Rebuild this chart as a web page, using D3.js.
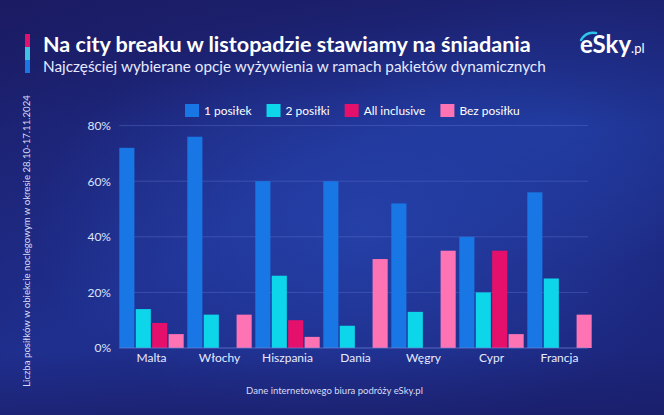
<!DOCTYPE html>
<html>
<head>
<meta charset="utf-8">
<script src="https://cdn.jsdelivr.net/npm/d3@7"></script>
<style>
  html, body { margin: 0; padding: 0; background: #1b2170; }
  svg { display: block; }
  text { font-family: Lato, "Open Sans", sans-serif; }
</style>
</head>
<body>
<script>
// ---- DATA ----
const categories = ["Malta", "Włochy", "Hiszpania", "Dania", "Węgry", "Cypr", "Francja"];
const seriesNames = ["1 posiłek", "2 posiłki", "All inclusive", "Bez posiłku"];
const onePosilek   = [72, 76, 60, 60, 52, 40, 56];
const twoPosilki   = [14, 12, 26,  8, 13, 20, 25];
const allInclusive = [ 9,  0, 10,  0,  0, 35,  0];
const bezPosilku   = [ 5, 12,  4, 32, 35,  5, 12];
const yTicks = [0, 20, 40, 60, 80];
const yTickLabels = ["0%", "20%", "40%", "60%", "80%"];
const seriesColors = ["#1877e4", "#0dd5ea", "#e5106c", "#fd73b3"];
const titleText = "Na city breaku w listopadzie stawiamy na śniadania";
const subtitleText = "Najczęściej wybierane opcje wyżywienia w ramach pakietów dynamicznych";
const yAxisTitle = "Liczba posiłków w obiekcie noclegowym w okresie 28.10-17.11.2024";
const footerText = "Dane internetowego biura podróży eSky.pl";

const seriesValues = [onePosilek, twoPosilki, allInclusive, bezPosilku];
const table = categories.map((c, i) => ({ cat: c, vals: seriesValues.map(s => s[i]) }));

const W = 664, H = 415;
const svg = d3.select("body").append("svg").attr("width", W).attr("height", H);
const defs = svg.append("defs");

// fit text to a target width by adjusting font size
function fitWidth(sel, target) {
  const fs = parseFloat(sel.attr("font-size"));
  const w = sel.node().getComputedTextLength();
  if (w > 0) sel.attr("font-size", (fs * target / w).toFixed(2));
}

// Background
const bg = defs.append("linearGradient").attr("id", "bg").attr("x1", 0).attr("y1", 0).attr("x2", 1).attr("y2", 1);
bg.append("stop").attr("offset", "0%").attr("stop-color", "#1b1c66");
bg.append("stop").attr("offset", "45%").attr("stop-color", "#1f2f8e");
bg.append("stop").attr("offset", "100%").attr("stop-color", "#1b2478");
svg.append("rect").attr("width", W).attr("height", H).attr("fill", "url(#bg)");
const rg = defs.append("radialGradient").attr("id", "glow").attr("cx", 0.55).attr("cy", 0.55).attr("r", 0.5);
rg.append("stop").attr("offset", "0%").attr("stop-color", "#2a4fc0").attr("stop-opacity", 0.55);
rg.append("stop").attr("offset", "100%").attr("stop-color", "#2a4fc0").attr("stop-opacity", 0);
svg.append("rect").attr("width", W).attr("height", H).attr("fill", "url(#glow)");
const rg2 = defs.append("radialGradient").attr("id", "glow2").attr("cx", 0.85).attr("cy", 0.3).attr("r", 0.35);
rg2.append("stop").attr("offset", "0%").attr("stop-color", "#2346b0").attr("stop-opacity", 0.5);
rg2.append("stop").attr("offset", "100%").attr("stop-color", "#2346b0").attr("stop-opacity", 0);
svg.append("rect").attr("width", W).attr("height", H).attr("fill", "url(#glow2)");
const topShade = defs.append("linearGradient").attr("id", "topShade").attr("x1", 0).attr("y1", 0).attr("x2", 0).attr("y2", 1);
topShade.append("stop").attr("offset", "0%").attr("stop-color", "#1a1a60").attr("stop-opacity", 0.6);
topShade.append("stop").attr("offset", "30%").attr("stop-color", "#1a1a60").attr("stop-opacity", 0);
topShade.append("stop").attr("offset", "85%").attr("stop-color", "#1a1a60").attr("stop-opacity", 0);
topShade.append("stop").attr("offset", "100%").attr("stop-color", "#1a1a60").attr("stop-opacity", 0.5);
svg.append("rect").attr("width", W).attr("height", H).attr("fill", "url(#topShade)");

// Header colour bar
const barColors = ["#e5106c", "#3ec3e6", "#1877e4"];
barColors.forEach((c, i) => {
  svg.append("rect").attr("x", 25).attr("y", 34 + i * 13).attr("width", 5).attr("height", 13).attr("fill", c);
});

// Title + subtitle
const title = svg.append("text").attr("x", 43).attr("y", 51.5).attr("fill", "#ffffff")
  .attr("font-size", 19).attr("font-weight", 700).text(titleText);
fitWidth(title, 488);
const subtitle = svg.append("text").attr("x", 43).attr("y", 71.5).attr("fill", "#e6eaff")
  .attr("font-size", 14).text(subtitleText);
fitWidth(subtitle, 503);

// Logo
const logo = svg.append("text").attr("x", 580).attr("y", 53).attr("fill", "#ffffff")
  .attr("font-weight", 700).attr("font-size", 24);
logo.append("tspan").text("eSky");
logo.append("tspan").attr("font-size", 13).attr("font-weight", 400).text(".pl");
svg.append("path").attr("d", "M581,40 Q586,31 596,33").attr("fill", "none")
  .attr("stroke", "#2ec5ea").attr("stroke-width", 2.5).attr("stroke-linecap", "round");

// Scales
const plotLeft = 119.3, plotRight = 595.3, plotBottom = 348, plotTop = 125.6;
const x0 = d3.scaleBand().domain(categories).range([plotLeft, plotRight]).paddingInner(0).paddingOuter(0);
const x1 = d3.scaleBand().domain(seriesNames).range([0, 64.4]).paddingInner(0.08).paddingOuter(0);
const y = d3.scaleLinear().domain([0, 80]).range([plotBottom, plotTop]);
const gridRight = 588;

// Gridlines
svg.append("g").selectAll("line").data(yTicks.filter(d => d > 0)).join("line")
  .attr("x1", plotLeft).attr("x2", gridRight)
  .attr("y1", d => y(d)).attr("y2", d => y(d))
  .attr("stroke", "#5a6fc8").attr("stroke-opacity", 0.45).attr("stroke-width", 1);

// Y axis labels
const yAxis = d3.axisLeft(y).tickValues(yTicks).tickFormat((d, i) => yTickLabels[i]).tickSize(0).tickPadding(0);
const yg = svg.append("g").attr("transform", `translate(111,0)`).call(yAxis);
yg.select(".domain").remove();
yg.selectAll("text").attr("fill", "#dfe4fb").attr("font-size", 12).attr("font-family", "Lato, sans-serif");

// Bars
const groups = svg.append("g").selectAll("g").data(table).join("g")
  .attr("transform", d => `translate(${x0(d.cat)},0)`);
groups.selectAll("rect").data(d => d.vals.map((v, i) => ({ name: seriesNames[i], v, i }))).join("rect")
  .attr("x", d => x1(d.name)).attr("width", x1.bandwidth())
  .attr("y", d => y(d.v)).attr("height", d => plotBottom - y(d.v))
  .attr("fill", d => seriesColors[d.i]);

// Baseline
svg.append("line").attr("x1", plotLeft).attr("x2", gridRight).attr("y1", plotBottom).attr("y2", plotBottom)
  .attr("stroke", "#6f82d6").attr("stroke-opacity", 0.7).attr("stroke-width", 1);

// X axis labels
const xAxis = d3.axisBottom(x0).tickSize(0).tickPadding(0);
const xg = svg.append("g").attr("transform", `translate(${-(x0.bandwidth() - 64.4) / 2},353.5)`).call(xAxis);
xg.select(".domain").remove();
xg.selectAll("text").attr("fill", "#e6eaff").attr("font-size", 12).attr("font-family", "Lato, sans-serif");

// Legend (text sized so the row spans the same width as the reference)
const legend = svg.append("g");
const legTexts = seriesNames.map(n => legend.append("text").attr("y", 115).attr("fill", "#ffffff")
  .attr("font-size", 13).text(n));
const totalW = d3.sum(legTexts, t => t.node().getComputedTextLength());
const legFs = 13 * 214 / totalW;
let lx = 185;
legTexts.forEach((t, i) => {
  t.attr("font-size", legFs.toFixed(2));
  legend.append("rect").attr("x", lx).attr("y", 104).attr("width", 14).attr("height", 13).attr("fill", seriesColors[i]);
  t.attr("x", lx + 19);
  lx += 19 + t.node().getComputedTextLength() + 15;
});

// Y axis title
const yTitle = svg.append("text").attr("transform", "translate(30,241) rotate(-90)").attr("text-anchor", "middle")
  .attr("fill", "#d6dcf7").attr("font-size", 10).text(yAxisTitle);
fitWidth(yTitle, 292);

// Footer
const footer = svg.append("text").attr("x", 334.5).attr("y", 394).attr("text-anchor", "middle")
  .attr("fill", "#d6dcf7").attr("font-size", 10.5).text(footerText);
fitWidth(footer, 177);
</script>
</body>
</html>
